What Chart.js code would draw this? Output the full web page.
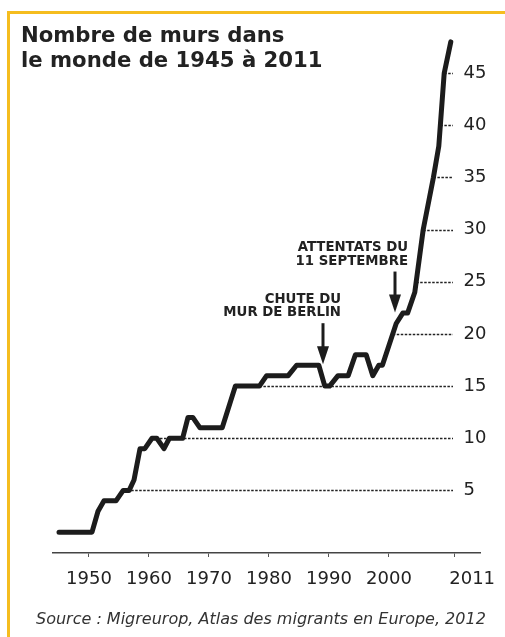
<!DOCTYPE html>
<html>
<head>
<meta charset="utf-8">
<script src="https://cdn.jsdelivr.net/npm/chart.js@4"></script>
<style>
  html, body { margin: 0; padding: 0; background: #fff; }
  body { width: 505px; height: 637px; position: relative; overflow: hidden; font-family: "DejaVu Sans", Verdana, sans-serif; }
  #frame { position: absolute; left: 7px; top: 10.5px; width: 520px; height: 640px; border-top: 3px solid #F5BD1F; border-left: 3px solid #F5BD1F; }
  #title { position: absolute; left: 21px; top: 21.5px; font-weight: bold; font-size: 21.2px; line-height: 25px; color: #222; white-space: nowrap; }
  #source { position: absolute; left: 36px; top: 611px; font-style: italic; font-size: 16px; line-height: 16px; color: #333; white-space: nowrap; }
  #c { position: absolute; left: 0; top: 0; }
</style>
</head>
<body>
<div id="frame"></div>
<canvas id="c" width="505" height="637"></canvas>
<div id="title">Nombre de murs dans<br>le monde de 1945 à 2011</div>
<div id="source">Source : Migreurop, Atlas des migrants en Europe, 2012</div>
<script>
// ---- data ----
const years = [1945, 1950.5, 1951.5, 1952.5, 1954.5, 1955.7, 1956.7, 1957.5, 1958.5, 1959.3,
  1960.5, 1961.3, 1962.5, 1963.4, 1965.6, 1966.5, 1967.3, 1968.5, 1972.2, 1974.4,
  1978.4, 1979.6, 1983.2, 1984.6, 1988.3, 1989.3, 1990.1, 1991.5, 1993.2, 1994.4,
  1996.2, 1997.3, 1998.3, 1998.9, 2001.2, 2002.3, 2003.1, 2004.3, 2005.7, 2007.4,
  2008.3, 2009.2, 2010.3];
const walls = [1, 1, 3, 4, 4, 5, 5, 6, 9, 9,
  10, 10, 9, 10, 10, 12, 12, 11, 11, 15,
  15, 16, 16, 17, 17, 15, 15, 16, 16, 18,
  18, 16, 17, 17, 21, 22, 22, 24, 30, 35,
  38, 45, 48];
const xTickYears = [1950, 1960, 1970, 1980, 1990, 2000, 2011];
const yTickValues = [5, 10, 15, 20, 25, 30, 35, 40, 45];
const eventLabels = [["CHUTE DU", "MUR DE BERLIN"], ["ATTENTATS DU", "11 SEPTEMBRE"]];
const eventYears = [1989, 2001];
const eventTipValues = [17.1, 22.05];
// text offsets (style only)
const eventTextOffsets = [18, 13];

Chart.defaults.font.family = '"DejaVu Sans", Verdana, sans-serif';

function firstReach(v) {
  for (let i = 0; i < walls.length; i++) {
    if (walls[i] >= v) {
      if (i === 0) return years[0];
      const y0 = walls[i - 1], y1 = walls[i];
      const t = (v - y0) / (y1 - y0);
      return years[i - 1] + t * (years[i] - years[i - 1]);
    }
  }
  return null;
}

const dashedGrid = {
  id: 'dashedGrid',
  beforeDatasetsDraw(chart) {
    const { ctx, scales: { x, y }, chartArea } = chart;
    ctx.save();
    ctx.strokeStyle = '#222';
    ctx.lineWidth = 1.3;
    ctx.setLineDash([2.5, 1.5]);
    yTickValues.forEach(v => {
      const yr = firstReach(v);
      if (yr === null) return;
      const py = Math.round(y.getPixelForValue(v)) + 0.5;
      ctx.beginPath();
      ctx.moveTo(x.getPixelForValue(yr), py);
      ctx.lineTo(chartArea.right - 27, py);
      ctx.stroke();
    });
    ctx.restore();
  }
};

const events = {
  id: 'events',
  afterDatasetsDraw(chart) {
    const { ctx, scales: { x, y } } = chart;
    ctx.save();
    eventLabels.forEach((lines, i) => {
      const px = x.getPixelForValue(eventYears[i]);
      const tip = y.getPixelForValue(eventTipValues[i]);
      const top = tip - 41;
      ctx.strokeStyle = '#1c1c1c';
      ctx.fillStyle = '#1c1c1c';
      ctx.lineWidth = 3;
      ctx.beginPath();
      ctx.moveTo(px, top);
      ctx.lineTo(px, tip - 12);
      ctx.stroke();
      ctx.beginPath();
      ctx.moveTo(px - 6, tip - 18);
      ctx.lineTo(px + 6, tip - 18);
      ctx.lineTo(px, tip);
      ctx.closePath();
      ctx.fill();
      ctx.font = 'bold 13.3px "DejaVu Sans", Verdana, sans-serif';
      ctx.textAlign = 'right';
      ctx.textBaseline = 'alphabetic';
      ctx.fillStyle = '#222';
      const lastBase = top - 7;
      lines.forEach((t, k) => {
        ctx.fillText(t, px + eventTextOffsets[i], lastBase - (lines.length - 1 - k) * 13.2);
      });
    });
    ctx.restore();
  }
};

function noPad(s) { s.paddingLeft = 0; s.paddingRight = 0; s.paddingTop = 0; s.paddingBottom = 0; }

new Chart(document.getElementById('c'), {
  type: 'line',
  data: {
    datasets: [{
      data: years.map((yr, i) => ({ x: yr, y: walls[i] })),
      borderColor: '#1c1c1c',
      borderWidth: 5,
      pointRadius: 0,
      tension: 0,
      borderCapStyle: 'round',
      borderJoinStyle: 'round',
      fill: false
    }]
  },
  options: {
    responsive: false,
    devicePixelRatio: 1,
    animation: false,
    layout: { padding: { left: 53, top: 21, right: 0, bottom: 0 } },
    plugins: { legend: { display: false }, tooltip: { enabled: false } },
    scales: {
      x: {
        type: 'linear',
        min: 1944,
        max: 1944 + 427 / 6,
        afterFit(s) { s.height = 84; noPad(s); },
        afterBuildTicks(s) { s.ticks = xTickYears.map(v => ({ value: v })); },
        ticks: {
          autoSkip: false, maxRotation: 0, padding: 12,
          color: '#222', font: { size: 18 },
          callback: v => (v === 2011 ? '      2011' : String(v))
        },
        grid: { drawOnChartArea: false, drawTicks: true, tickLength: 4, color: '#555', lineWidth: 1 },
        border: { display: true, color: '#444', width: 1.5 }
      },
      y: {
        position: 'right',
        min: -1,
        max: 50,
        afterFit(s) { s.width = 25; noPad(s); },
        afterBuildTicks(s) { s.ticks = yTickValues.map(v => ({ value: v })); },
        ticks: { mirror: true, crossAlign: 'far', padding: 6.4, color: '#222', font: { size: 18 } },
        grid: { display: false, drawTicks: false },
        border: { display: false }
      }
    }
  },
  plugins: [dashedGrid, events]
});
</script>
</body>
</html>
